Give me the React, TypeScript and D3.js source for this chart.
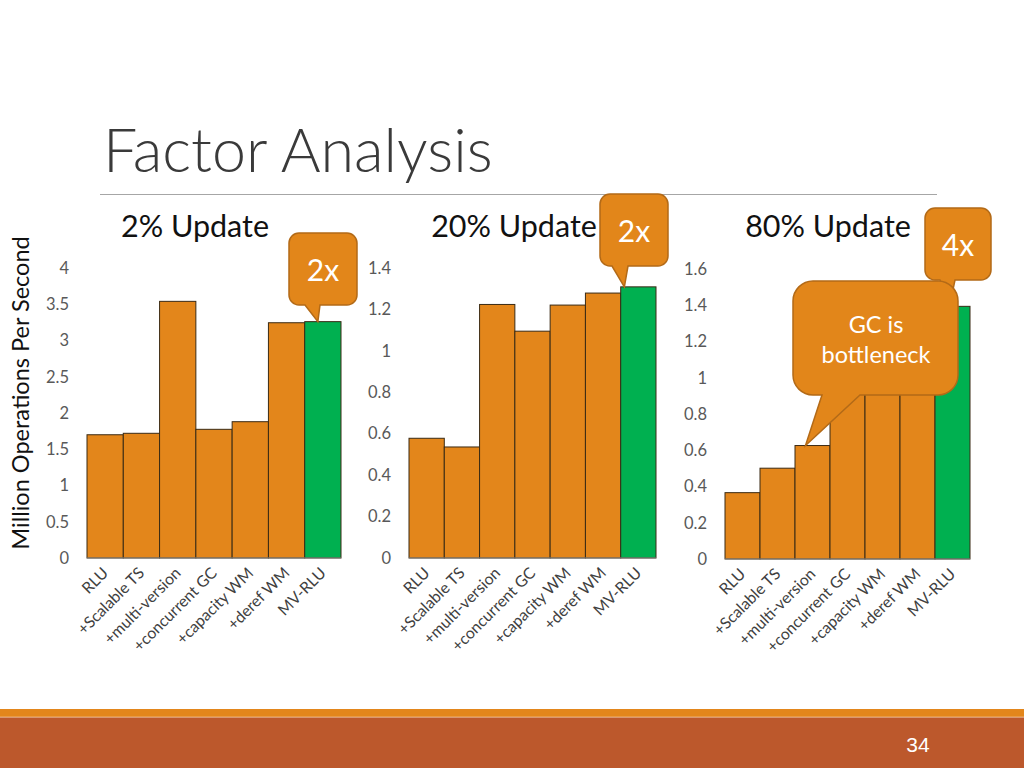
import React from "react";
import * as d3 from "d3";

const categories = ["RLU", "+Scalable TS", "+multi-version", "+concurrent GC", "+capacity WM", "+deref WM", "MV-RLU"];
const update2 = [1.7, 1.72, 3.54, 1.775, 1.88, 3.245, 3.26];
const update20 = [0.578, 0.536, 1.224, 1.095, 1.221, 1.279, 1.309];
const update80 = [0.366, 0.501, 0.626, 1.1, 1.2, 1.3, 1.394];
const ticks2 = [0, 0.5, 1, 1.5, 2, 2.5, 3, 3.5, 4];
const ticks20 = [0, 0.2, 0.4, 0.6, 0.8, 1, 1.2, 1.4];
const ticks80 = [0, 0.2, 0.4, 0.6, 0.8, 1, 1.2, 1.4, 1.6];
const panelTitles = ["2% Update", "20% Update", "80% Update"];

const FONT = "Lato, 'Open Sans', sans-serif";
const ORANGE = "#E3861B";
const GREEN = "#00B050";
const CALL_FILL = "#E2861A";
const CALL_STROKE = "#B36A17";

function calloutPath(x: number, y: number, w: number, h: number, r: number, b1: number, b2: number, tx: number, ty: number) {
  return `M${x + r},${y} H${x + w - r} A${r},${r} 0 0 1 ${x + w},${y + r} V${y + h - r} A${r},${r} 0 0 1 ${x + w - r},${y + h} H${b2} L${tx},${ty} L${b1},${y + h} H${x + r} A${r},${r} 0 0 1 ${x},${y + h - r} V${y + r} A${r},${r} 0 0 1 ${x + r},${y} Z`;
}

type PanelSpec = {
  values: number[];
  ticks: number[];
  max: number;
  x0: number;
  x1: number;
  yTop: number;
  yBase: number;
  title: string;
  titleX: number;
  tickFmt: (v: number) => string;
};

function Panel({ p }: { p: PanelSpec }) {
  const x = d3.scaleBand<string>().domain(categories).range([p.x0, p.x1]).padding(0);
  const y = d3.scaleLinear().domain([0, p.max]).range([p.yBase, p.yTop]);
  return (
    <g>
      <text x={p.titleX} y={237} textAnchor="middle" fontFamily={FONT} fontSize={30.5} fill="#111">{p.title}</text>
      {p.ticks.map((t) => (
        <text key={t} x={p.x0 - 18} y={y(t)} dy="0.35em" textAnchor="end" fontFamily={FONT} fontSize={16.5} fill="#595959">{p.tickFmt(t)}</text>
      ))}
      {p.values.map((v, i) => (
        <rect key={i} x={x(categories[i])!} y={y(v)} width={x.bandwidth()} height={p.yBase - y(v)}
          fill={i === categories.length - 1 ? GREEN : ORANGE} stroke="#3a2a14" strokeWidth={1} />
      ))}
      <line x1={p.x0} x2={p.x1} y1={p.yBase} y2={p.yBase} stroke="#8c8c8c" strokeWidth={1} />
      {categories.map((c) => (
        <text key={c} transform={`translate(${x(c)! + x.bandwidth() / 2 + 4},${p.yBase + 16}) rotate(-45)`}
          textAnchor="end" fontFamily={FONT} fontSize={15.8} fill="#404040">{c}</text>
      ))}
    </g>
  );
}

export default function App() {
  const fmt = (v: number) => d3.format("~g")(v);
  const panels: PanelSpec[] = [
    { values: update2, ticks: ticks2, max: 4, x0: 87, x1: 341, yTop: 268, yBase: 558, title: panelTitles[0], titleX: 195, tickFmt: fmt },
    { values: update20, ticks: ticks20, max: 1.4, x0: 409, x1: 656, yTop: 268, yBase: 558, title: panelTitles[1], titleX: 514, tickFmt: fmt },
    { values: update80, ticks: ticks80, max: 1.6, x0: 725, x1: 970, yTop: 269, yBase: 559, title: panelTitles[2], titleX: 828, tickFmt: fmt },
  ];
  const tip = (p: PanelSpec, idx: number, dx: number) => {
    const x = d3.scaleBand<string>().domain(categories).range([p.x0, p.x1]).padding(0);
    const y = d3.scaleLinear().domain([0, p.max]).range([p.yBase, p.yTop]);
    return [x(categories[idx])! + x.bandwidth() / 2 + dx, y(p.values[idx])] as [number, number];
  };
  const t1 = tip(panels[0], 6, -5);
  const t2 = tip(panels[1], 6, -14);
  const t3 = tip(panels[2], 6, -3);
  const t4 = tip(panels[2], 2, -7);

  return (
    <div style={{ position: "absolute", left: 0, top: 0 }}>
      <svg width={1024} height={768} viewBox="0 0 1024 768" style={{ display: "block", background: "#fff" }}>
        <rect x={0} y={0} width={1024} height={768} fill="#fff" />
        <text x={103} y={172} fontFamily={FONT} fontWeight={300} fontSize={61} fill="#3a3a3a">Factor Analysis</text>
        <line x1={100} x2={937} y1={194.5} y2={194.5} stroke="#a6a6a6" strokeWidth={1.2} />
        <text transform="translate(29,393) rotate(-90)" textAnchor="middle" fontFamily={FONT} fontSize={23.5} fill="#111">Million Operations Per Second</text>
        {panels.map((p, i) => <Panel key={i} p={p} />)}

        {/* callouts */}
        <path d={calloutPath(289, 233, 68, 72, 10, 305, 320, t1[0], t1[1])} fill={CALL_FILL} stroke={CALL_STROKE} strokeWidth={1.5} />
        <text x={323} y={270} dy="0.35em" textAnchor="middle" fontFamily={FONT} fontSize={30} fill="#fff">2x</text>

        <path d={calloutPath(600, 194, 68, 72, 10, 612, 628, t2[0], t2[1])} fill={CALL_FILL} stroke={CALL_STROKE} strokeWidth={1.5} />
        <text x={634} y={231} dy="0.35em" textAnchor="middle" fontFamily={FONT} fontSize={30} fill="#fff">2x</text>

        <path d={calloutPath(925, 208, 66, 72, 10, 940, 955, t3[0], t3[1])} fill={CALL_FILL} stroke={CALL_STROKE} strokeWidth={1.5} />
        <text x={958} y={245} dy="0.35em" textAnchor="middle" fontFamily={FONT} fontSize={30} fill="#fff">4x</text>

        <path d={calloutPath(793, 281, 165, 114, 20, 822, 860, t4[0], t4[1])} fill={CALL_FILL} stroke={CALL_STROKE} strokeWidth={1.5} />
        <text x={876} y={325} dy="0.35em" textAnchor="middle" fontFamily={FONT} fontSize={23.5} fill="#fff">GC is</text>
        <text x={876} y={355} dy="0.35em" textAnchor="middle" fontFamily={FONT} fontSize={23.5} fill="#fff">bottleneck</text>

        {/* footer */}
        <rect x={0} y={709} width={1024} height={8} fill="#E3861B" />
        <rect x={0} y={716.5} width={1024} height={1} fill="#f0b070" />
        <rect x={0} y={717.5} width={1024} height={51} fill="#BC582C" />
        <text x={918} y={745} dy="0.35em" textAnchor="middle" fontFamily="'Liberation Sans Narrow', 'Liberation Sans', sans-serif" fontSize={21} fill="#fff">34</text>
      </svg>
    </div>
  );
}
